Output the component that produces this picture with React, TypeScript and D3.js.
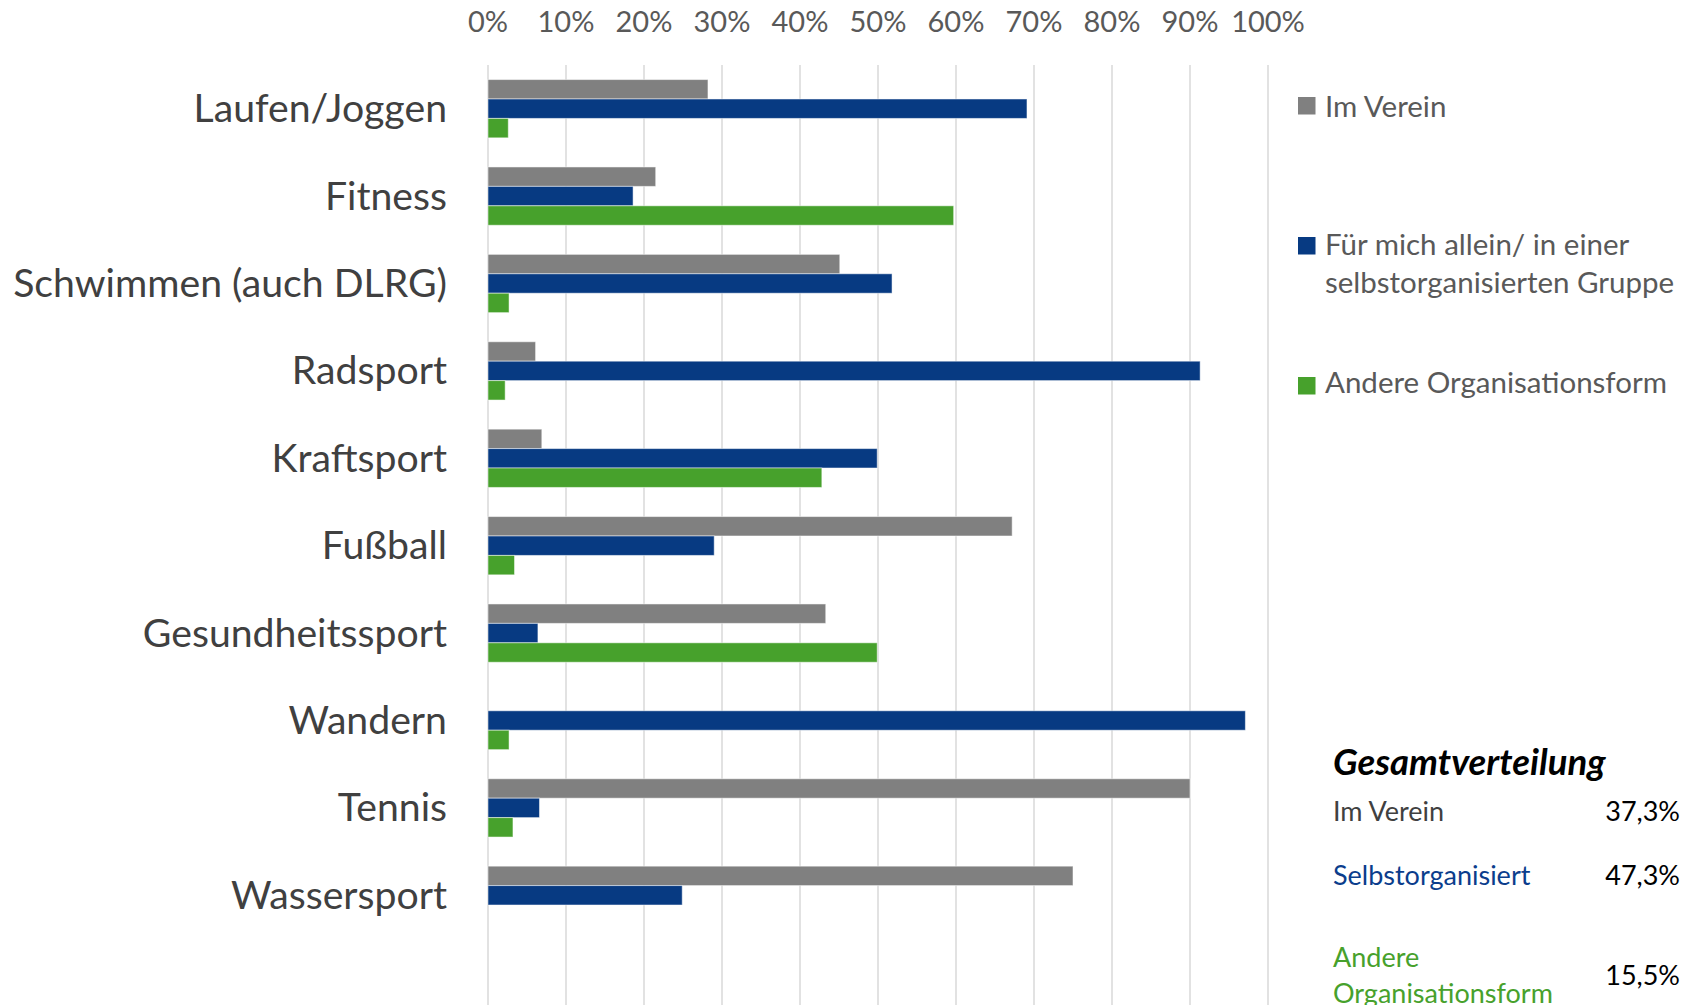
import React from "react";
import * as d3 from "d3";

const categories = [
  "Laufen/Joggen",
  "Fitness",
  "Schwimmen (auch DLRG)",
  "Radsport",
  "Kraftsport",
  "Fußball",
  "Gesundheitssport",
  "Wandern",
  "Tennis",
  "Wassersport",
];
const imVerein = [28.2, 21.5, 45.1, 6.1, 6.9, 67.2, 43.3, 0, 90.0, 75.0];
const selbstorganisiert = [69.1, 18.6, 51.8, 91.3, 49.9, 29.0, 6.4, 97.1, 6.6, 24.9];
const andere = [2.6, 59.7, 2.7, 2.2, 42.8, 3.4, 49.9, 2.7, 3.2, 0];
const seriesNames = ["Im Verein", "Für mich allein/ in einer selbstorganisierten Gruppe", "Andere Organisationsform"];
const legendLines = [["Im Verein"], ["Für mich allein/ in einer", "selbstorganisierten Gruppe"], ["Andere Organisationsform"]];
const xTicks = [0, 10, 20, 30, 40, 50, 60, 70, 80, 90, 100];
const summaryLabels = [["Im Verein"], ["Selbstorganisiert"], ["Andere", "Organisationsform"]];
const summaryValues = ["37,3%", "47,3%", "15,5%"];
const summaryTitle = "Gesamtverteilung";

const COLORS = ["#808080", "#073A82", "#47A12C"];
const SUMMARY_COLORS = ["#404040", "#0B3D8C", "#47A12C"];
const FONT = "Lato, 'Open Sans', sans-serif";

export default function App() {
  const W = 1697;
  const H = 1005;
  const x = d3.scaleLinear().domain([0, 100]).range([488, 1268]);
  const y = d3.scaleBand<string>().domain(categories).range([65, 939]).paddingInner(1 / 3).paddingOuter(1 / 6);
  const sub = d3.scaleBand<number>().domain([0, 1, 2]).range([0, y.bandwidth()]);
  const series = [imVerein, selbstorganisiert, andere];

  const legendY = [
    { sq: 97, base: [117] },
    { sq: 237, base: [255, 293] },
    { sq: 377, base: [393] },
  ];
  const summaryBase = [[821], [885], [967, 1003]];
  const summaryValBase = [821, 885, 985];

  return (
    <svg width={W} height={H} style={{ position: "fixed", left: 0, top: 0, background: "#fff" }} fontFamily={FONT}>
      <rect x={0} y={0} width={W} height={H} fill="#fff" />
      {xTicks.map((t) => (
        <g key={t}>
          <line x1={x(t)} x2={x(t)} y1={65} y2={H} stroke="#D9D9D9" strokeWidth={1.5} />
          <text x={x(t)} y={32} textAnchor="middle" fontSize={29} fill="#595959">
            {t}%
          </text>
        </g>
      ))}
      {categories.map((c, i) => (
        <g key={c}>
          {series.map((s, k) =>
            s[i] > 0 ? (
              <rect
                key={k}
                x={x(0)}
                y={(y(c) as number) + (sub(k) as number)}
                width={x(s[i]) - x(0)}
                height={sub.bandwidth()}
                fill={COLORS[k]}
                stroke="#ffffff"
                strokeOpacity={0.5}
                strokeWidth={1}
              />
            ) : null
          )}
          <text
            x={447}
            y={(y(c) as number) + y.bandwidth() / 2 + 13.5}
            textAnchor="end"
            fontSize={39.2}
            fill="#404040"
          >
            {c}
          </text>
        </g>
      ))}
      {seriesNames.map((n, k) => (
        <g key={n}>
          <rect x={1298} y={legendY[k].sq} width={17.5} height={17.5} fill={COLORS[k]} />
          {legendLines[k].map((line, j) => (
            <text key={j} x={1325} y={legendY[k].base[j]} fontSize={29.5} fill="#595959">
              {line}
            </text>
          ))}
        </g>
      ))}
      <text x={1333} y={775} fontSize={36.5} fontWeight="bold" fontStyle="italic" fill="#000">
        {summaryTitle}
      </text>
      {summaryLabels.map((lines, k) => (
        <g key={k}>
          {lines.map((line, j) => (
            <text key={j} x={1333} y={summaryBase[k][j]} fontSize={27} fill={SUMMARY_COLORS[k]}>
              {line}
            </text>
          ))}
          <text x={1680} y={summaryValBase[k]} textAnchor="end" fontSize={27} fill="#000">
            {summaryValues[k]}
          </text>
        </g>
      ))}
    </svg>
  );
}
